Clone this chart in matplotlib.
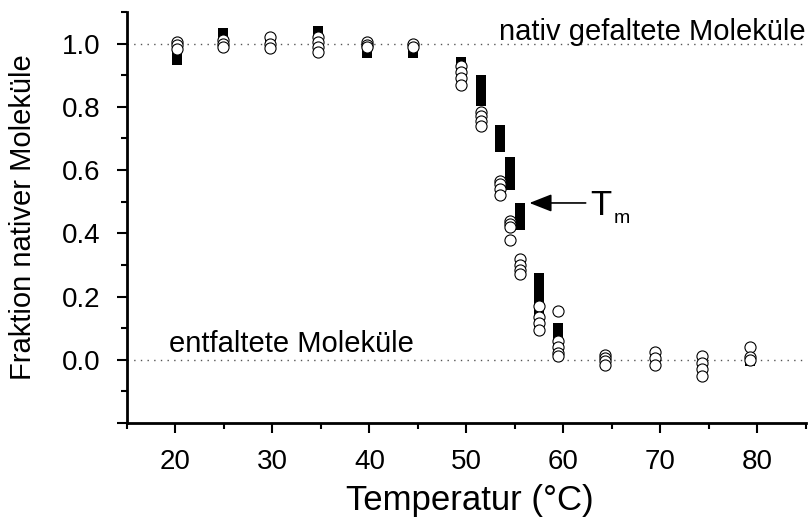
import matplotlib
matplotlib.use("Agg")
import matplotlib.pyplot as plt
from matplotlib.ticker import MultipleLocator, FixedLocator, FixedFormatter

plt.rcParams['font.family'] = ['Liberation Sans', 'DejaVu Sans']

# Messwerte (Kreise): Temperatur und Fraktion nativer Molekuele
circ_temp = [20.2, 20.2, 20.2,
             24.9, 24.9, 24.9,
             29.7, 29.7, 29.7,
             34.7, 34.7, 34.7, 34.7,
             39.7, 39.7, 39.7,
             44.5, 44.5,
             49.4, 49.4, 49.4, 49.4,
             51.5, 51.5, 51.5, 51.5,
             53.5, 53.5, 53.5, 53.5,
             54.5, 54.5, 54.5, 54.5,
             55.5, 55.5, 55.5, 55.5,
             57.5, 57.5, 57.5, 57.5,
             59.4, 59.4, 59.4, 59.4, 59.4,
             64.3, 64.3, 64.3, 64.3,
             69.4, 69.4, 69.4,
             74.3, 74.3, 74.3, 74.3,
             79.2, 79.2, 79.2]
circ_frac = [1.005, 0.995, 0.983,
             1.012, 1.0, 0.99,
             1.02, 1.0, 0.985,
             1.02, 1.005, 0.99, 0.975,
             1.005, 0.995, 0.99,
             1.0, 0.99,
             0.93, 0.91, 0.89, 0.87,
             0.785, 0.77, 0.755, 0.74,
             0.567, 0.555, 0.54, 0.522,
             0.44, 0.43, 0.42, 0.38,
             0.32, 0.30, 0.285, 0.27,
             0.17, 0.135, 0.115, 0.095,
             0.153, 0.058, 0.04, 0.02, 0.012,
             0.015, 0.005, -0.005, -0.018,
             0.025, 0.005, -0.018,
             0.012, -0.01, -0.03, -0.05,
             0.04, 0.01, 0.0]

# Messwerte (gefuellte Quadrate)
sq_temp = [20.2, 20.2, 20.2,
           24.9, 24.9, 24.9,
           29.7,
           34.7, 34.7, 34.7,
           39.7, 39.7,
           44.5, 44.5,
           49.4, 49.4,
           51.5, 51.5, 51.5, 51.5,
           53.5, 53.5, 53.5,
           54.5, 54.5, 54.5, 54.5,
           55.5, 55.5, 55.5,
           57.5, 57.5, 57.5, 57.5, 57.5, 57.5, 57.5,
           59.4, 59.4, 59.4,
           79.2]
sq_frac = [0.99, 0.97, 0.948,
           1.035, 1.015, 1.0,
           1.0,
           1.04, 1.02, 1.0,
           0.99, 0.969,
           0.99, 0.969,
           0.942, 0.92,
           0.884, 0.862, 0.84, 0.818,
           0.726, 0.70, 0.674,
           0.626, 0.60, 0.575, 0.553,
           0.48, 0.455, 0.426,
           0.26, 0.235, 0.21, 0.185, 0.16, 0.135, 0.121,
           0.102, 0.075, 0.048,
           -0.005]

ytick_vals = [-0.2, 0.0, 0.2, 0.4, 0.6, 0.8, 1.0]
ytick_labels = ['', '0.0', '0.2', '0.4', '0.6', '0.8', '1.0']
xtick_vals = [20, 30, 40, 50, 60, 70, 80]

fig = plt.figure(figsize=(8.1, 5.18), dpi=100)
ax = fig.add_axes([0.1568, 0.1834, 0.838, 0.7934])

ax.axhline(1.0, color='#555555', lw=1.0, ls=(0, (1, 3.8)), zorder=1)
ax.axhline(0.0, color='#555555', lw=1.0, ls=(0, (1, 3.8)), zorder=1)

ax.scatter(sq_temp, sq_frac, marker='s', s=52, color='black', linewidths=0, zorder=2)
ax.scatter(circ_temp, circ_frac, marker='o', s=64, facecolors='white',
           edgecolors='black', linewidths=0.8, zorder=3)

ax.set_xlim(15, 85)
ax.set_ylim(-0.2, 1.1)

ax.xaxis.set_major_locator(FixedLocator(xtick_vals))
ax.xaxis.set_minor_locator(MultipleLocator(10, offset=5))
ax.yaxis.set_major_locator(FixedLocator(ytick_vals))
ax.yaxis.set_major_formatter(FixedFormatter(ytick_labels))
ax.yaxis.set_minor_locator(MultipleLocator(0.2, offset=0.1))

ax.tick_params(which='major', length=7, width=1.5, labelsize=20, pad=12, direction='out')
ax.tick_params(which='minor', length=4, width=1.5, direction='out')

for side in ['top', 'right']:
    ax.spines[side].set_visible(False)
for side in ['left', 'bottom']:
    ax.spines[side].set_linewidth(2)

ax.set_xlabel('Temperatur (°C)', fontsize=25)
ax.xaxis.set_label_coords(0.505, -0.148)
ax.set_ylabel('Fraktion nativer Moleküle', fontsize=21)
ax.yaxis.set_label_coords(-0.133, 0.5)

ax.text(85, 1.012, 'nativ gefaltete Moleküle', fontsize=21, ha='right', va='baseline')
ax.text(19.3, 0.026, 'entfaltete Moleküle', fontsize=21, ha='left', va='baseline')

ax.annotate('', xy=(56.5, 0.496), xytext=(62.3, 0.496),
            arrowprops=dict(arrowstyle='-|>,head_length=1.37,head_width=0.54',
                            color='black', lw=1.2, mutation_scale=10,
                            shrinkA=0, shrinkB=0))
ax.text(62.8, 0.458, 'T', fontsize=25, ha='left', va='baseline')
ax.text(65.2, 0.433, 'm', fontsize=14, ha='left', va='baseline')

fig.savefig('out.png', dpi=100)
